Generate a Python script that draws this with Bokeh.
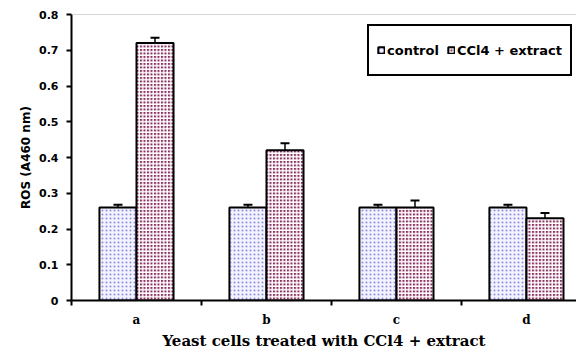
from bokeh.plotting import figure
from bokeh.models import (ColumnDataSource, FixedTicker, Whisker, TeeHead, Range1d,
                          Legend, LegendItem, Span)
from bokeh.embed import file_html
from bokeh.resources import INLINE

categories = ["a", "b", "c", "d"]
control = [0.26, 0.26, 0.26, 0.26]
control_err = [0.008, 0.008, 0.008, 0.008]
extract = [0.72, 0.42, 0.26, 0.23]
extract_err = [0.015, 0.02, 0.02, 0.015]
y_ticks = [0, 0.1, 0.2, 0.3, 0.4, 0.5, 0.6, 0.7, 0.8]
y_tick_labels = ["0", "0.1", "0.2", "0.3", "0.4", "0.5", "0.6", "0.7", "0.8"]

idx = list(range(len(categories)))
off = 0.1425
bw = 0.285

src_c = ColumnDataSource(dict(x=[i - off for i in idx], top=control,
                              lo=[v - e for v, e in zip(control, control_err)],
                              hi=[v + e for v, e in zip(control, control_err)]))
src_e = ColumnDataSource(dict(x=[i + off for i in idx], top=extract,
                              lo=[v - e for v, e in zip(extract, extract_err)],
                              hi=[v + e for v, e in zip(extract, extract_err)]))

p = figure(width=576, height=352, output_backend="svg", toolbar_location=None,
           x_range=Range1d(-0.5, 3.385), y_range=Range1d(0, 0.8),
           min_border_left=71, min_border_top=14, min_border_right=0, min_border_bottom=50)
p.xgrid.visible = False
p.ygrid.visible = False
p.outline_line_color = None
p.background_fill_color = "white"
p.border_fill_color = "white"

p.add_layout(Span(location=0.8, dimension="width", line_color="#b0b0b0", line_width=1))

rc = p.vbar(x="x", top="top", width=bw, source=src_c, fill_color="#f3f3ff",
            hatch_pattern="dot", hatch_color="#8c8ce0", hatch_scale=4, hatch_weight=1.2,
            line_color="black", line_width=2)
re = p.vbar(x="x", top="top", width=bw, source=src_e, fill_color="#8a3062",
            hatch_pattern="cross", hatch_color="white", hatch_scale=3.5, hatch_weight=1.4,
            line_color="black", line_width=2)

for s in (src_c, src_e):
    w = Whisker(source=s, base="x", lower="lo", upper="hi", line_color="black", line_width=1.5,
                upper_head=TeeHead(size=9, line_width=2, line_color="black"),
                lower_head=TeeHead(size=9, line_width=2, line_color="black"))
    p.add_layout(w)

# x axis
p.xaxis.ticker = FixedTicker(ticks=idx, minor_ticks=[i + 0.5 for i in [-1] + idx])
p.xaxis.major_label_overrides = {i: c for i, c in enumerate(categories)}
p.xaxis.major_tick_out = 0
p.xaxis.major_tick_in = 0
p.xaxis.minor_tick_out = 5
p.xaxis.minor_tick_in = 0
p.xaxis.minor_tick_line_width = 2
p.xaxis.axis_line_width = 2
p.xaxis.major_label_text_font = "DejaVu Serif"
p.xaxis.major_label_text_font_style = "bold"
p.xaxis.major_label_text_font_size = "12px"
p.xaxis.major_label_text_color = "black"
p.xaxis.major_label_standoff = 7
p.xaxis.axis_label = "Yeast cells treated with CCl4 + extract"
p.xaxis.axis_label_text_font = "DejaVu Serif"
p.xaxis.axis_label_text_font_style = "bold"
p.xaxis.axis_label_text_font_size = "15px"
p.xaxis.axis_label_text_color = "black"
p.xaxis.axis_label_standoff = 2

# y axis
p.yaxis.ticker = FixedTicker(ticks=y_ticks, minor_ticks=[])
p.yaxis.major_label_overrides = {t: l for t, l in zip(y_ticks, y_tick_labels)}
p.yaxis.major_tick_out = 5
p.yaxis.major_tick_in = 0
p.yaxis.major_tick_line_width = 2
p.yaxis.axis_line_width = 2
p.yaxis.major_label_text_font = "DejaVu Sans"
p.yaxis.major_label_text_font_style = "bold"
p.yaxis.major_label_text_font_size = "11px"
p.yaxis.major_label_text_color = "black"
p.yaxis.major_label_standoff = 8
p.yaxis.axis_label = "ROS (A460 nm)"
p.yaxis.axis_label_text_font = "DejaVu Sans"
p.yaxis.axis_label_text_font_style = "bold"
p.yaxis.axis_label_text_font_size = "12px"
p.yaxis.axis_label_text_color = "black"
p.yaxis.axis_label_standoff = 3

legend = Legend(items=[LegendItem(label="control", renderers=[rc]),
                       LegendItem(label="CCl4 + extract", renderers=[re])],
                location=(296, 224), orientation="horizontal",
                border_line_color="black", border_line_width=2, border_line_alpha=1,
                background_fill_color="white", background_fill_alpha=1,
                glyph_width=8, glyph_height=8, label_standoff=2, spacing=8,
                padding=8, margin=0, label_height=32,
                label_text_font="DejaVu Sans", label_text_font_style="bold",
                label_text_font_size="13px", label_text_color="black")
p.add_layout(legend, "center")

open("out.html", "w").write(file_html(p, INLINE))
